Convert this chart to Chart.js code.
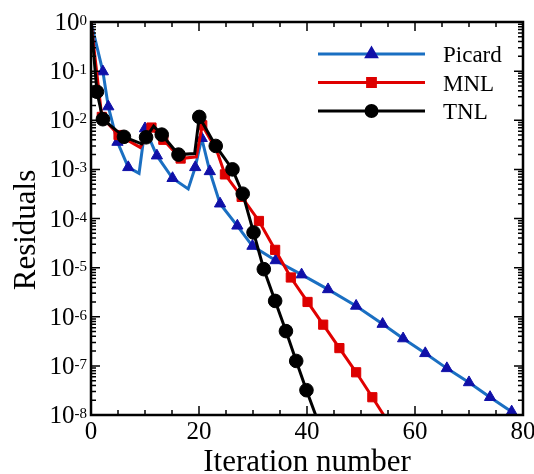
<!DOCTYPE html>
<html>
<head>
<meta charset="utf-8">
<script src="https://cdn.jsdelivr.net/npm/chart.js@4/dist/chart.umd.min.js"></script>
<style>
  html, body { margin: 0; padding: 0; background: #ffffff; }
  #wrap { width: 534px; height: 474px; }
</style>
</head>
<body>
<div id="wrap"><canvas id="c" width="534" height="474"></canvas></div>
<script>
// ---------------- data ----------------
const seriesNames = ['Picard', 'MNL', 'TNL'];

const iterPicard = [0, 2.2, 3.2, 4.9, 6.9, 8.9, 10.0, 12.2, 15.1, 18.0, 19.3, 20.5, 22.0, 23.9, 27.1, 29.9, 34.2, 39.0, 43.9, 49.1, 54.0, 57.8, 61.9, 65.9, 70.0, 73.9, 77.9];
const resPicard  = [1, 9.8e-2, 1.9e-2, 3.6e-3, 1.1e-3, 8.3e-4, 6.8e-3, 1.9e-3, 6.6e-4, 4.0e-4, 1.1e-3, 4.3e-3, 9.1e-4, 2.0e-4, 7.1e-5, 2.75e-5, 1.4e-5, 7.2e-6, 3.6e-6, 1.66e-6, 7.1e-7, 3.6e-7, 1.8e-7, 8.9e-8, 4.6e-8, 2.3e-8, 1.17e-8];
const markPicard = [0, 1, 1, 1, 1, 0, 1, 1, 1, 0, 1, 1, 1, 1, 1, 1, 1, 1, 1, 1, 1, 1, 1, 1, 1, 1, 1];

const iterMNL = [0, 2.0, 5.1, 9.1, 11.2, 13.4, 16.6, 19.5, 20.6, 23.3, 24.8, 27.9, 31.1, 34.1, 37.0, 40.1, 43.0, 46.0, 49.1, 52.1, 54.2];
const resMNL  = [1, 1.17e-2, 5.0e-3, 2.8e-3, 7.1e-3, 4.0e-3, 1.66e-3, 1.8e-3, 7.9e-3, 2.4e-3, 7.9e-4, 2.75e-4, 8.9e-5, 2.3e-5, 6.3e-6, 2.0e-6, 6.9e-7, 2.3e-7, 7.4e-8, 2.3e-8, 1e-8];
const markMNL = [0, 1, 1, 0, 1, 1, 1, 0, 1, 0, 1, 1, 1, 1, 1, 1, 1, 1, 1, 1, 0];

const iterTNL = [0, 1.1, 2.2, 6.1, 9.4, 10.2, 11.6, 13.1, 16.2, 19.2, 20.05, 23.1, 26.2, 28.1, 30.1, 32.0, 34.1, 36.1, 38.0, 39.9, 41.6];
const resTNL  = [1, 3.8e-2, 1.05e-2, 4.6e-3, 3.3e-3, 4.5e-3, 7.6e-3, 5.1e-3, 2.0e-3, 2.1e-3, 1.17e-2, 3.0e-3, 1.0e-3, 3.2e-4, 5.2e-5, 9.3e-6, 2.1e-6, 5.1e-7, 1.26e-7, 3.2e-8, 1e-8];
const markTNL = [0, 1, 1, 1, 0, 1, 0, 1, 1, 0, 1, 1, 1, 1, 1, 1, 1, 1, 1, 1, 0];

const xTickValues = [0, 20, 40, 60, 80];
const xMinorStep = 5;
const yDecades = [1, 1e-1, 1e-2, 1e-3, 1e-4, 1e-5, 1e-6, 1e-7, 1e-8];
const xTitle = 'Iteration number';
const yTitle = 'Residuals';

// ---------------- build ----------------
function pts(xs, ys) { return xs.map((x, i) => ({ x: x, y: ys[i] })); }
function radii(marks, r) { return marks.map(m => m ? r : 0); }

const SERIF = '"Liberation Serif", "DejaVu Serif", serif';

const datasets = [
  { label: seriesNames[0], data: pts(iterPicard, resPicard), borderColor: '#1a6fc2', borderWidth: 3,
    pointStyle: 'triangle', pointRadius: radii(markPicard, 6.5), pointBackgroundColor: '#1010a8',
    pointBorderColor: '#1010a8', pointBorderWidth: 1, order: 3, legendMarker: 5.5 },
  { label: seriesNames[1], data: pts(iterMNL, resMNL), borderColor: '#e00000', borderWidth: 3,
    pointStyle: 'rect', pointRadius: radii(markMNL, 6.5), pointBackgroundColor: '#dd0000',
    pointBorderColor: '#dd0000', pointBorderWidth: 1, order: 2, legendMarker: 5.5 },
  { label: seriesNames[2], data: pts(iterTNL, resTNL), borderColor: '#000000', borderWidth: 3,
    pointStyle: 'circle', pointRadius: radii(markTNL, 6.8), pointBackgroundColor: '#000000',
    pointBorderColor: '#000000', pointBorderWidth: 1, order: 1, legendMarker: 5.5 }
];
datasets.forEach(d => { d.tension = 0; d.fill = false; d.pointHoverRadius = d.pointRadius; });

const decor = {
  id: 'decor',
  afterDatasetsDraw(chart) {
    const ctx = chart.ctx, a = chart.chartArea;
    const xs = chart.scales.x, ys = chart.scales.y;
    ctx.save();
    ctx.strokeStyle = '#000';
    ctx.lineWidth = 1.5;
    ctx.beginPath();
    ys.ticks.forEach(t => {
      const y = ys.getPixelForValue(t.value);
      ctx.moveTo(a.left, y); ctx.lineTo(a.left + 9, y);
      ctx.moveTo(a.right, y); ctx.lineTo(a.right - 9, y);
      for (let k = 2; k <= 9; k++) {
        const v = t.value * k;
        if (v >= ys.max) continue;
        const ym = ys.getPixelForValue(v);
        ctx.moveTo(a.left, ym); ctx.lineTo(a.left + 5, ym);
        ctx.moveTo(a.right, ym); ctx.lineTo(a.right - 5, ym);
      }
    });
    for (let v = xs.min; v <= xs.max; v += xMinorStep) {
      const x = xs.getPixelForValue(v);
      const major = xs.ticks.some(t => t.value === v);
      const len = major ? 9 : 5;
      ctx.moveTo(x, a.bottom); ctx.lineTo(x, a.bottom - len);
      ctx.moveTo(x, a.top); ctx.lineTo(x, a.top + len);
    }
    ctx.stroke();
    ctx.lineWidth = 2.5;
    ctx.strokeRect(a.left, a.top, a.right - a.left, a.bottom - a.top);
    ctx.restore();
  },
  afterDraw(chart) {
    const ctx = chart.ctx, a = chart.chartArea;
    const xs = chart.scales.x, ys = chart.scales.y;
    ctx.save();
    ctx.fillStyle = '#000';
    ys.ticks.forEach(t => {
      const y = ys.getPixelForValue(t.value);
      const e = String(Math.round(Math.log10(t.value)));
      ctx.font = '15px ' + SERIF;
      const supW = ctx.measureText(e).width;
      const xEnd = a.left - 4;
      ctx.textAlign = 'left'; ctx.textBaseline = 'alphabetic';
      ctx.fillText(e, xEnd - supW, y + 3);
      ctx.font = '25px ' + SERIF;
      ctx.textAlign = 'right';
      ctx.fillText('10', xEnd - supW, y + 8);
    });
    ctx.font = '25px ' + SERIF;
    ctx.textAlign = 'center'; ctx.textBaseline = 'alphabetic';
    xs.ticks.forEach(t => {
      ctx.fillText(String(t.value), xs.getPixelForValue(t.value), a.bottom + 24);
    });
    ctx.font = '31px ' + SERIF;
    ctx.fillText(xTitle, (a.left + a.right) / 2, a.bottom + 56);
    ctx.save();
    ctx.translate(35, 230);
    ctx.rotate(-Math.PI / 2);
    ctx.textAlign = 'center';
    ctx.fillText(yTitle, 0, 0);
    ctx.restore();
    chart.data.datasets.forEach((d, i) => {
      const y = 54 + i * 28.5;
      const x0 = 318, x1 = 425;
      ctx.strokeStyle = d.borderColor; ctx.lineWidth = 3;
      ctx.beginPath(); ctx.moveTo(x0, y); ctx.lineTo(x1, y); ctx.stroke();
      ctx.fillStyle = d.pointBackgroundColor; ctx.strokeStyle = d.pointBorderColor;
      Chart.helpers.drawPoint(ctx, { pointStyle: d.pointStyle, radius: d.legendMarker, rotation: 0, borderWidth: 1 }, (x0 + x1) / 2, y);
      ctx.fillStyle = '#000';
      ctx.font = '23px ' + SERIF;
      ctx.textAlign = 'left';
      ctx.fillText(d.label, 443, y + 8);
    });
    ctx.restore();
  }
};

new Chart(document.getElementById('c'), {
  type: 'line',
  data: { datasets: datasets },
  options: {
    responsive: false,
    animation: false,
    devicePixelRatio: 1,
    layout: { padding: { top: 22, right: 11, left: 0, bottom: 0 } },
    plugins: { legend: { display: false }, tooltip: { enabled: false } },
    scales: {
      x: {
        type: 'linear', min: 0, max: 80,
        afterBuildTicks: s => { s.ticks = xTickValues.map(v => ({ value: v })); },
        afterFit: s => { s.height = 59; },
        ticks: { display: false },
        grid: { display: false, drawTicks: false },
        border: { display: false }
      },
      y: {
        type: 'logarithmic', min: 1e-8, max: 1,
        afterBuildTicks: s => { s.ticks = yDecades.map(v => ({ value: v })); },
        afterFit: s => { s.width = 91; },
        ticks: { display: false },
        grid: { display: false, drawTicks: false },
        border: { display: false }
      }
    }
  },
  plugins: [decor]
});
</script>
</body>
</html>
